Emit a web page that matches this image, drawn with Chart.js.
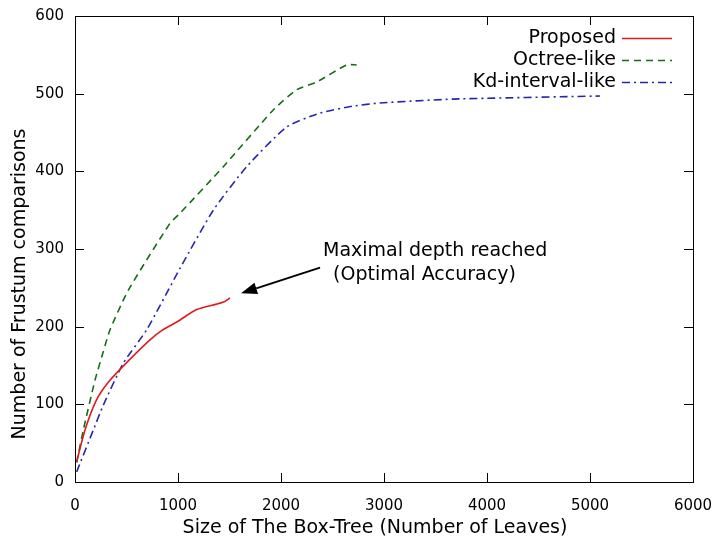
<!DOCTYPE html>
<html>
<head>
<meta charset="utf-8">
<script src="https://cdn.jsdelivr.net/npm/chart.js@4"></script>
<style>
  html, body { margin: 0; padding: 0; background: #fff; }
  #wrap { width: 712px; height: 543px; }
</style>
</head>
<body>
<div id="wrap"><canvas id="chart" width="712" height="543"></canvas></div>
<script>
// Curves (x = leaves, y = comparisons)
const proposedX = [16, 97, 210, 333, 518, 728, 841, 1000, 1181, 1375, 1450, 1505];
const proposedY = [26, 67, 106, 130, 156, 183, 195, 207, 222, 229, 232, 237];
const octreeX = [16, 81, 194, 275, 340, 518, 922, 1019, 1440, 1925, 2152, 2346, 2638, 2735];
const octreeY = [25, 67, 131, 168, 196, 247, 333, 346, 406, 479, 505, 515, 537, 537];
const kdX = [16, 178, 275, 469, 696, 1019, 1343, 1667, 2055, 2379, 2702, 2961, 3673, 5097];
const kdY = [13, 67, 99, 153, 196, 275, 350, 406, 457, 475, 484, 488, 493, 497];
const xTicks = [0, 1000, 2000, 3000, 4000, 5000, 6000];
const yTicks = [0, 100, 200, 300, 400, 500, 600];

const xTitle = 'Size of The Box-Tree (Number of Leaves)';
const yTitle = 'Number of Frustum comparisons';

const pts = (xs, ys) => xs.map((x, i) => ({ x: x, y: ys[i] }));

const titleFont = '19px "DejaVu Sans"';
const tickFont = { family: 'DejaVu Sans', size: 15 };

// frame, mirrored inward ticks, titles, legend and the annotation, drawn like gnuplot
const gnuplotBits = {
    id: 'gnuplotBits',
    afterDraw(chart) {
        const ctx = chart.ctx;
        const a = chart.chartArea;
        const xs = chart.scales.x, ys = chart.scales.y;
        ctx.save();
        ctx.strokeStyle = '#000';
        ctx.lineWidth = 1;
        ctx.setLineDash([]);
        ctx.strokeRect(Math.round(a.left) + 0.5, Math.round(a.top) + 0.5,
            Math.round(a.right - a.left), Math.round(a.bottom - a.top));
        ctx.beginPath();
        xTicks.forEach(v => {
            const px = Math.round(xs.getPixelForValue(v)) + 0.5;
            ctx.moveTo(px, a.bottom); ctx.lineTo(px, a.bottom - 9);
            ctx.moveTo(px, a.top); ctx.lineTo(px, a.top + 9);
        });
        yTicks.forEach(v => {
            const py = Math.round(ys.getPixelForValue(v)) + 0.5;
            ctx.moveTo(a.left, py); ctx.lineTo(a.left + 9, py);
            ctx.moveTo(a.right, py); ctx.lineTo(a.right - 9, py);
        });
        ctx.stroke();

        // axis titles
        ctx.font = titleFont;
        ctx.fillStyle = '#000';
        ctx.textAlign = 'center';
        ctx.textBaseline = 'middle';
        ctx.fillText(xTitle, 375, 528);
        ctx.save();
        ctx.translate(20, 284);
        ctx.rotate(-Math.PI / 2);
        ctx.fillText(yTitle, 0, 0);
        ctx.restore();

        // legend: text right aligned, sample line to its right
        ctx.textAlign = 'right';
        chart.data.datasets.forEach((ds, i) => {
            const y = 38 + i * 22;
            ctx.fillStyle = '#000';
            ctx.fillText(ds.label, 616, y);
            ctx.strokeStyle = ds.borderColor;
            ctx.lineWidth = ds.borderWidth;
            ctx.setLineDash(ds.borderDash || []);
            ctx.beginPath();
            ctx.moveTo(622, y + 0.5);
            ctx.lineTo(672, y + 0.5);
            ctx.stroke();
        });
        ctx.setLineDash([]);

        // annotation
        ctx.fillStyle = '#000';
        ctx.textAlign = 'left';
        ctx.fillText('Maximal depth reached', xs.getPixelForValue(2408), ys.getPixelForValue(297));
        ctx.fillText('(Optimal Accuracy)', xs.getPixelForValue(2505), ys.getPixelForValue(266));

        const x1 = xs.getPixelForValue(2379), y1 = ys.getPixelForValue(276);
        const x2 = xs.getPixelForValue(1612), y2 = ys.getPixelForValue(243);
        const ang = Math.atan2(y2 - y1, x2 - x1);
        const hl = 16, hw = 6;
        const bx = x2 - hl * Math.cos(ang), by = y2 - hl * Math.sin(ang);
        ctx.strokeStyle = '#000';
        ctx.lineWidth = 2;
        ctx.beginPath();
        ctx.moveTo(x1, y1);
        ctx.lineTo(bx, by);
        ctx.stroke();
        ctx.beginPath();
        ctx.moveTo(x2, y2);
        ctx.lineTo(bx + hw * Math.sin(ang), by - hw * Math.cos(ang));
        ctx.lineTo(bx - hw * Math.sin(ang), by + hw * Math.cos(ang));
        ctx.closePath();
        ctx.fill();
        ctx.restore();
    }
};

new Chart(document.getElementById('chart'), {
    type: 'line',
    data: {
        datasets: [{
            label: 'Proposed',
            data: pts(proposedX, proposedY),
            borderColor: '#dd1c1c',
            borderWidth: 1.6,
            pointRadius: 0,
            tension: 0.2
        }, {
            label: 'Octree-like',
            data: pts(octreeX, octreeY),
            borderColor: '#146e14',
            borderWidth: 1.6,
            borderDash: [7, 5],
            pointRadius: 0,
            tension: 0.2
        }, {
            label: 'Kd-interval-like',
            data: pts(kdX, kdY),
            borderColor: '#2626b0',
            borderWidth: 1.6,
            borderDash: [8, 4, 2, 4],
            pointRadius: 0,
            tension: 0.2
        }]
    },
    options: {
        responsive: false,
        animation: false,
        layout: { padding: { top: 16, right: 19, left: 0, bottom: 0 } },
        plugins: { legend: { display: false }, tooltip: { enabled: false } },
        scales: {
            x: {
                type: 'linear',
                min: 0, max: 6000,
                afterBuildTicks: s => { s.ticks = xTicks.map(v => ({ value: v })); },
                afterFit: s => { s.height = 61; s.paddingLeft = 0; s.paddingRight = 0; },
                grid: { display: false, drawTicks: false },
                border: { display: false },
                ticks: { font: tickFont, color: '#000', padding: 15, maxRotation: 0,
                    callback: v => String(v) },
                title: { display: false }
            },
            y: {
                type: 'linear',
                min: 0, max: 600,
                afterBuildTicks: s => { s.ticks = yTicks.map(v => ({ value: v })); },
                afterFit: s => { s.width = 75; s.paddingTop = 0; s.paddingBottom = 0; },
                grid: { display: false, drawTicks: false },
                border: { display: false },
                ticks: { font: tickFont, color: '#000', padding: 11,
                    callback: v => String(v) },
                title: { display: false }
            }
        }
    },
    plugins: [gnuplotBits]
});
</script>
</body>
</html>
